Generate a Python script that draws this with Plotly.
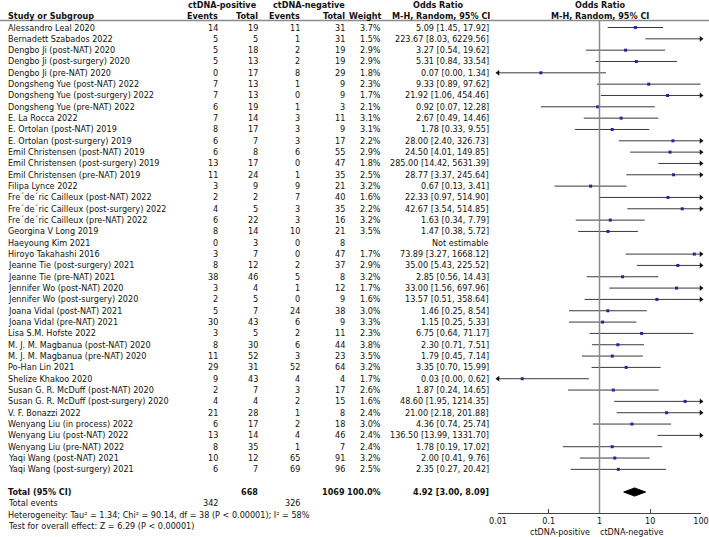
import plotly.graph_objects as go

# forest plot data
studies = [
    "Alessandro Leal 2020", "Bernadett Szabados 2022", "Dengbo Ji (post-NAT) 2020",
    "Dengbo Ji (post-surgery) 2020", "Dengbo Ji (pre-NAT) 2020", "Dongsheng Yue (post-NAT) 2022",
    "Dongsheng Yue (post-surgery) 2022", "Dongsheng Yue (pre-NAT) 2022", "E. La Rocca 2022",
    "E. Ortolan (post-NAT) 2019", "E. Ortolan (post-surgery) 2019", "Emil Christensen (post-NAT) 2019",
    "Emil Christensen (post-surgery) 2019", "Emil Christensen (pre-NAT) 2019", "Filipa Lynce 2022",
    "Fre´de´ric Cailleux (post-NAT) 2022", "Fre´de´ric Cailleux (post-surgery) 2022",
    "Fre´de´ric Cailleux (pre-NAT) 2022", "Georgina V Long 2019", "Haeyoung Kim 2021",
    "Hiroyo Takahashi 2016", "Jeanne Tie (post-surgery) 2021", "Jeanne Tie (pre-NAT) 2021",
    "Jennifer Wo (post-NAT) 2020", "Jennifer Wo (post-surgery) 2020", "Joana Vidal (post-NAT) 2021",
    "Joana Vidal (pre-NAT) 2021", "Lisa S.M. Hofste 2022", "M. J. M. Magbanua (post-NAT) 2020",
    "M. J. M. Magbanua (pre-NAT) 2020", "Po-Han Lin 2021", "Shelize Khakoo 2020",
    "Susan G. R. McDuff (post-NAT) 2020", "Susan G. R. McDuff (post-surgery) 2020",
    "V. F. Bonazzi 2022", "Wenyang Liu (in process) 2022", "Wenyang Liu (post-NAT) 2022",
    "Wenyang Liu (pre-NAT) 2022", "Yaqi Wang (post-NAT) 2021", "Yaqi Wang (post-surgery) 2021",
]
ev_pos = [14, 5, 5, 5, 0, 7, 7, 6, 7, 8, 6, 6, 13, 11, 3, 2, 4, 6, 8, 0,
          3, 8, 38, 3, 2, 5, 30, 3, 8, 11, 29, 9, 2, 4, 21, 6, 13, 8, 10, 6]
tot_pos = [19, 5, 18, 13, 17, 13, 13, 19, 14, 17, 7, 8, 17, 24, 9, 2, 5, 22, 14, 3,
           7, 12, 46, 4, 5, 7, 43, 5, 30, 52, 31, 43, 7, 4, 28, 17, 14, 35, 12, 7]
ev_neg = [11, 1, 2, 2, 8, 1, 0, 1, 3, 3, 3, 6, 0, 1, 9, 7, 3, 3, 10, 0,
          0, 2, 5, 1, 0, 24, 6, 2, 6, 3, 52, 4, 3, 2, 1, 2, 4, 1, 65, 69]
tot_neg = [31, 31, 19, 19, 29, 9, 9, 3, 11, 9, 17, 55, 47, 35, 21, 40, 35, 16, 21, 8,
           47, 37, 8, 12, 9, 38, 9, 11, 44, 23, 64, 4, 17, 15, 8, 18, 46, 7, 91, 96]
weight = [3.7, 1.5, 2.9, 2.9, 1.8, 2.3, 1.7, 2.1, 3.1, 3.1, 2.2, 2.9, 1.8, 2.5, 3.2, 1.6,
          2.2, 3.2, 3.5, None, 1.7, 2.9, 3.2, 1.7, 1.6, 3.0, 3.3, 2.3, 3.8, 3.5, 3.2, 1.7,
          2.6, 1.6, 2.4, 3.0, 2.4, 2.4, 3.2, 2.5]
odds = [5.09, 223.67, 3.27, 5.31, 0.07, 9.33, 21.92, 0.92, 2.67, 1.78, 28.00, 24.50, 285.00,
        28.77, 0.67, 22.33, 42.67, 1.63, 1.47, None, 73.89, 35.00, 2.85, 33.00, 13.57, 1.46,
        1.15, 6.75, 2.30, 1.79, 3.35, 0.03, 1.87, 48.60, 21.00, 4.36, 136.50, 1.78, 2.00, 2.35]
ci_low = [1.45, 8.03, 0.54, 0.84, 0.00, 0.89, 1.06, 0.07, 0.49, 0.33, 2.40, 4.01, 14.42,
          3.37, 0.13, 0.97, 3.54, 0.34, 0.38, None, 3.27, 5.43, 0.56, 1.56, 0.51, 0.25,
          0.25, 0.64, 0.71, 0.45, 0.70, 0.00, 0.24, 1.95, 2.18, 0.74, 13.99, 0.19, 0.41, 0.27]
ci_high = [17.92, 6229.56, 19.62, 33.54, 1.34, 97.62, 454.46, 12.28, 14.46, 9.55, 326.73,
           149.85, 5631.39, 245.64, 3.41, 514.90, 514.85, 7.79, 5.72, None, 1668.12, 225.52,
           14.43, 697.96, 358.64, 8.54, 5.33, 71.17, 7.51, 7.14, 15.99, 0.62, 14.65, 1214.35,
           201.88, 25.74, 1331.70, 17.02, 9.76, 20.42]

total_pos, total_neg = 668, 1069
events_pos, events_neg = 342, 326
pooled = (4.92, 3.00, 8.09)
heterogeneity = "Heterogeneity: Tau² = 1.34; Chi² = 90.14, df = 38 (P < 0.00001); I² = 58%"
overall = "Test for overall effect: Z = 6.29 (P < 0.00001)"
tick_vals = [0.01, 0.1, 1, 10, 100]
tick_text = ["0.01", "0.1", "1", "10", "100"]

XMIN, XMAX = 0.01, 100
FONT = "DejaVu Sans"
FS = 8.1
TXT = "#111111"
W, H = 709, 537

fig = go.Figure()

# CI lines, clipped to the axis range
lx, ly = [], []
right_arr, left_arr = [], []
px, py = [], []
for i in range(len(studies)):
    if odds[i] is None:
        continue
    lo = max(ci_low[i], XMIN)
    hi = min(ci_high[i], XMAX)
    lx += [lo, hi, None]
    ly += [i, i, None]
    if ci_high[i] > XMAX:
        right_arr.append(i)
    if ci_low[i] < XMIN:
        left_arr.append(i)
    px.append(odds[i])
    py.append(i)

fig.add_trace(go.Scatter(x=lx, y=ly, mode="lines", xaxis="x2", yaxis="y",
                         line=dict(color="#3a3a3a", width=1), hoverinfo="skip"))
fig.add_trace(go.Scatter(x=[XMAX] * len(right_arr), y=right_arr, mode="markers",
                         xaxis="x2", yaxis="y", cliponaxis=False,
                         marker=dict(symbol="triangle-right", size=5, color="#111111")))
fig.add_trace(go.Scatter(x=[XMIN] * len(left_arr), y=left_arr, mode="markers",
                         xaxis="x2", yaxis="y", cliponaxis=False,
                         marker=dict(symbol="triangle-left", size=5, color="#111111")))
fig.add_trace(go.Scatter(x=px, y=py, mode="markers", xaxis="x2", yaxis="y",
                         marker=dict(symbol="square", size=3, color="#2323a8")))

# pooled diamond
tot_row = len(studies) + 1
fig.add_trace(go.Scatter(x=[pooled[1], pooled[0], pooled[2], pooled[0], pooled[1]],
                         y=[tot_row, tot_row - 0.36, tot_row, tot_row + 0.36, tot_row],
                         mode="lines", fill="toself", fillcolor="black",
                         line=dict(color="black", width=1), xaxis="x2", yaxis="y"))


def txt(x, y, s, anchor="right", bold=False):
    fig.add_annotation(x=x, y=y, xref="x", yref="y", text=f"<b>{s}</b>" if bold else s,
                       showarrow=False, xanchor=anchor, yanchor="middle",
                       font=dict(family=FONT, size=FS, color=TXT))


# column positions (pixels)
C_NAME, C_EP, C_TP, C_EN, C_TN, C_W, C_OR = 6, 220, 260, 302, 347, 383, 491

h1, h2 = -2.0, -1.05
txt(222, h1, "ctDNA-positive", "center", True)
txt(309, h1, "ctDNA-negative", "center", True)
txt(438, h1, "Odds Ratio", "center", True)
txt(600, h1, "Odds Ratio", "center", True)
txt(C_NAME, h2, "Study or Subgroup", "left", True)
txt(C_EP, h2, "Events", bold=True)
txt(C_TP, h2, "Total", bold=True)
txt(C_EN, h2, "Events", bold=True)
txt(C_TN, h2, "Total", bold=True)
txt(C_W, h2, "Weight", bold=True)
txt(C_OR + 1, h2, "M-H, Random, 95% CI", bold=True)
txt(600, h2, "M-H, Random, 95% CI", "center", True)

for i, name in enumerate(studies):
    txt(C_NAME, i, name, "left")
    txt(C_EP, i, str(ev_pos[i]))
    txt(C_TP, i, str(tot_pos[i]))
    txt(C_EN, i, str(ev_neg[i]))
    txt(C_TN, i, str(tot_neg[i]))
    if odds[i] is None:
        txt(C_OR, i, "Not estimable")
    else:
        txt(C_W, i, f"{weight[i]:.1f}%")
        txt(C_OR, i, f"{odds[i]:.2f} [{ci_low[i]:.2f}, {ci_high[i]:.2f}]")

txt(C_NAME, tot_row, "Total (95% CI)", "left", True)
txt(C_TP, tot_row, str(total_pos), bold=True)
txt(C_TN, tot_row, str(total_neg), bold=True)
txt(C_W, tot_row, "100.0%", bold=True)
txt(C_OR, tot_row, f"{pooled[0]:.2f} [{pooled[1]:.2f}, {pooled[2]:.2f}]", bold=True)
txt(C_NAME, tot_row + 1, "Total events", "left")
txt(C_EP, tot_row + 1, str(events_pos))
txt(C_EN, tot_row + 1, str(events_neg))
txt(C_NAME, tot_row + 2, heterogeneity, "left")
txt(C_NAME, tot_row + 3, overall, "left")
txt(592, 44.5, "ctDNA-positive", "right")
txt(598, 44.5, "ctDNA-negative", "left")

# header rule and line of no effect
fig.add_shape(type="line", xref="paper", yref="y", x0=0, x1=1, y0=-0.62, y1=-0.62,
              line=dict(color="#8a8a8a", width=1.5))
fig.add_shape(type="line", xref="x2", yref="y", x0=1, x1=1, y0=-0.62, y1=42.85,
              line=dict(color="#8a8a8a", width=1.5))

fig.update_layout(
    width=W, height=H, showlegend=False,
    margin=dict(l=0, r=0, t=0, b=0),
    paper_bgcolor="white", plot_bgcolor="white",
    xaxis=dict(domain=[0, 1], range=[0, W], visible=False, fixedrange=True,
               automargin=False),
    yaxis=dict(domain=[0, 1], range=[(H - 27.5) / 11.33, -27.5 / 11.33], visible=False,
               automargin=False),
    xaxis2=dict(domain=[498 / W, 701 / W], type="log", range=[-2, 2],
                anchor="free", position=(H - 513) / H, automargin=False,
                showline=True, linecolor="#444444", linewidth=1,
                ticks="inside", ticklen=4, tickcolor="#444444",
                tickvals=tick_vals, ticktext=tick_text,
                tickfont=dict(family=FONT, size=FS, color=TXT),
                showgrid=False, zeroline=False),
)

fig.write_html("out.html", config={"displayModeBar": False},
               post_script="document.body.style.margin='0';document.body.style.overflow='hidden';")
